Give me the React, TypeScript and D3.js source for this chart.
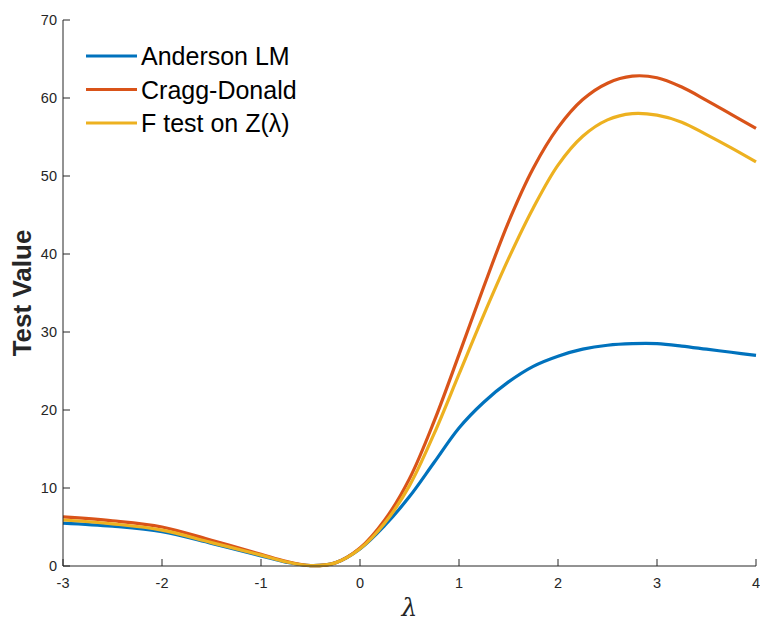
import React from 'react';
import * as d3 from 'd3';

// lambda grid
const lambdas = [-3, -2.5, -2, -1.5, -1, -0.75, -0.5, -0.25, 0, 0.25, 0.5, 0.75, 1, 1.25, 1.5, 1.75, 2, 2.25, 2.5, 2.75, 3, 3.25, 3.5, 3.75, 4];

const andersonLM = [5.5, 5.1, 4.4, 2.9, 1.3, 0.5, 0.05, 0.4, 2.2, 5.2, 8.9, 13.3, 17.7, 21.0, 23.6, 25.6, 26.9, 27.8, 28.3, 28.5, 28.5, 28.2, 27.8, 27.4, 27.0];
const craggDonald = [6.3, 5.8, 5.0, 3.3, 1.5, 0.6, 0.05, 0.4, 2.3, 5.9, 11.2, 18.6, 27.1, 35.8, 44.1, 51.0, 56.2, 59.8, 61.9, 62.8, 62.6, 61.4, 59.7, 57.9, 56.1];
const fTest = [5.9, 5.4, 4.6, 3.0, 1.4, 0.55, 0.05, 0.4, 2.2, 5.5, 10.3, 17.0, 24.6, 32.2, 39.4, 45.9, 51.4, 55.1, 57.2, 58.0, 57.8, 56.9, 55.3, 53.6, 51.8];

const seriesNames = ['Anderson LM', 'Cragg-Donald', 'F test on Z(\u03bb)'];
const seriesColors = ['#0072BD', '#D95319', '#EDB120'];
const seriesValues = [andersonLM, craggDonald, fTest];

const xTicks = [-3, -2, -1, 0, 1, 2, 3, 4];
const yTicks = [0, 10, 20, 30, 40, 50, 60, 70];

const W = 760;
const H = 623;
const margin = { left: 63, right: 4, top: 20, bottom: 57 };
const axisColor = '#262626';
const font = '"Liberation Sans", Arial, Helvetica, sans-serif';

export default function App() {
  const x = d3.scaleLinear().domain([-3, 4]).range([margin.left, W - margin.right]);
  const y = d3.scaleLinear().domain([0, 70]).range([H - margin.bottom, margin.top]);

  const line = d3.line<[number, number]>()
    .x(d => x(d[0]))
    .y(d => y(d[1]))
    .curve(d3.curveCatmullRom.alpha(0.5));

  const x0 = x(-3);
  const x1 = x(4);
  const yBase = y(0);
  const yTop = y(70);

  return (
    <svg width={W} height={H} style={{ position: 'absolute', left: 0, top: 0, background: '#fff' }}>
      <rect x={0} y={0} width={W} height={H} fill="#fff" />

      {/* curves */}
      {seriesValues.map((vals, i) => (
        <path
          key={seriesNames[i]}
          d={line(lambdas.map((l, j) => [l, vals[j]] as [number, number])) || ''}
          fill="none"
          stroke={seriesColors[i]}
          strokeWidth={3.2}
          strokeLinejoin="round"
        />
      ))}

      {/* axes */}
      <line x1={x0} x2={x1} y1={yBase} y2={yBase} stroke={axisColor} strokeWidth={1} />
      <line x1={x0} x2={x0} y1={yBase} y2={yTop} stroke={axisColor} strokeWidth={1} />
      {xTicks.map(t => (
        <g key={'xt' + t}>
          <line x1={x(t)} x2={x(t)} y1={yBase} y2={yBase - 7} stroke={axisColor} strokeWidth={1} />
          <text x={x(t)} y={yBase + 22} textAnchor="middle" fontFamily={font} fontSize={14.5} fill={axisColor}>
            {t}
          </text>
        </g>
      ))}
      {yTicks.map(t => (
        <g key={'yt' + t}>
          <line x1={x0} x2={x0 + 7} y1={y(t)} y2={y(t)} stroke={axisColor} strokeWidth={1} />
          <text x={x0 - 6} y={y(t) + 5} textAnchor="end" fontFamily={font} fontSize={14.5} fill={axisColor}>
            {t}
          </text>
        </g>
      ))}

      {/* axis labels */}
      <text
        transform={`translate(31,${(yBase + yTop) / 2}) rotate(-90)`}
        textAnchor="middle"
        fontFamily={font}
        fontWeight="bold"
        fontSize={26}
        fill={axisColor}
      >
        Test Value
      </text>
      <text
        x={(x0 + x1) / 2}
        y={616}
        textAnchor="middle"
        fontFamily='"DejaVu Serif", serif'
        fontStyle="italic"
        fontSize={25}
        fill={axisColor}
      >
        {'\u03bb'}
      </text>

      {/* legend */}
      {seriesNames.map((name, i) => (
        <g key={'lg' + i}>
          <line x1={86} x2={137} y1={56 + i * 33.5} y2={56 + i * 33.5} stroke={seriesColors[i]} strokeWidth={3.2} />
          <text x={141} y={65 + i * 33.5} fontFamily={font} fontSize={25} fill="#000">
            {name}
          </text>
        </g>
      ))}
    </svg>
  );
}
